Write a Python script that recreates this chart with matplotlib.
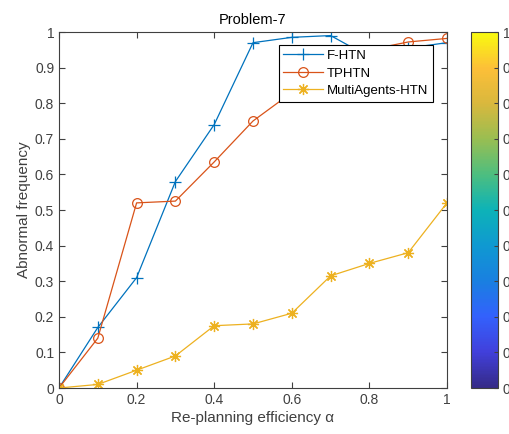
import numpy as np
import matplotlib.pyplot as plt
from matplotlib.colors import LinearSegmentedColormap
from matplotlib.cm import ScalarMappable
from matplotlib.colors import Normalize

plt.rcParams['font.family'] = ['Liberation Sans', 'DejaVu Sans']

alpha = [0, 0.1, 0.2, 0.3, 0.4, 0.5, 0.6, 0.7, 0.8, 0.9, 1.0]
f_htn = [0, 0.17, 0.31, 0.58, 0.74, 0.97, 0.985, 0.99, 0.93, 0.955, 0.97]
tphtn = [0, 0.14, 0.52, 0.525, 0.635, 0.75, 0.83, 0.90, 0.95, 0.972, 0.982]
multi = [0, 0.01, 0.05, 0.09, 0.175, 0.18, 0.21, 0.315, 0.35, 0.38, 0.52]

# approximate MATLAB parula
parula_pts = [
    (0.00, (0.208, 0.166, 0.529)),
    (0.10, (0.255, 0.250, 0.860)),
    (0.20, (0.200, 0.380, 0.990)),
    (0.30, (0.100, 0.500, 0.880)),
    (0.40, (0.060, 0.600, 0.820)),
    (0.50, (0.050, 0.700, 0.720)),
    (0.60, (0.300, 0.745, 0.500)),
    (0.70, (0.600, 0.745, 0.320)),
    (0.80, (0.850, 0.720, 0.240)),
    (0.90, (0.990, 0.750, 0.220)),
    (1.00, (0.976, 0.983, 0.054)),
]
parula = LinearSegmentedColormap.from_list('parula', parula_pts)

fig = plt.figure(figsize=(5.1, 4.34), dpi=100)
ax = fig.add_axes([59/510, 1-388/434, 388/510, 356/434])

ax.plot(alpha, f_htn, color='#0072BD', marker='+', markersize=8, mew=0.9, lw=0.9, label='F-HTN')
ax.plot(alpha, tphtn, color='#D95319', marker='o', markersize=7, mfc='none', mew=0.9, lw=0.9, label='TPHTN')
ax.plot(alpha, multi, color='#EDB120', marker=(8, 2, 0), markersize=8, mew=0.9, lw=0.9, label='MultiAgents-HTN')

ax.set_xlim(0, 1)
ax.set_ylim(0, 1)
ax.set_xticks(np.arange(0, 1.01, 0.2))
ax.set_xticklabels(['0', '0.2', '0.4', '0.6', '0.8', '1'])
ax.set_yticks(np.arange(0, 1.01, 0.1))
ax.set_yticklabels(['0', '0.1', '0.2', '0.3', '0.4', '0.5', '0.6', '0.7', '0.8', '0.9', '1'])
ax.tick_params(direction='in', top=True, right=True, labelsize=10, colors='#404040', length=4)
for s in ax.spines.values():
    s.set_color('#404040')
    s.set_linewidth(0.8)

ax.set_title('Problem-7', fontsize=10.5, pad=6)
ax.set_xlabel('Re-planning efficiency α', fontsize=11, color='#404040', labelpad=3)
ax.set_ylabel('Abnormal frequency', fontsize=11, color='#404040', labelpad=3)

leg = ax.legend(loc='upper right', bbox_to_anchor=(0.964, 0.963), fancybox=False,
                edgecolor='black', framealpha=1, fontsize=9.5, borderaxespad=0,
                handlelength=3.0, borderpad=0.35, labelspacing=0.4, handletextpad=0.3)
leg.get_frame().set_linewidth(0.8)

cax = fig.add_axes([471/510, 1-388/434, 27/510, 356/434])
sm = ScalarMappable(norm=Normalize(0, 1), cmap=parula)
cb = fig.colorbar(sm, cax=cax, ticks=np.arange(0, 1.01, 0.1))
cb.ax.set_yticklabels(['0', '0.1', '0.2', '0.3', '0.4', '0.5', '0.6', '0.7', '0.8', '0.9', '1'])
cb.ax.tick_params(direction='in', labelsize=10, colors='#404040', length=3)
cb.outline.set_edgecolor('#404040')
cb.outline.set_linewidth(0.8)

fig.savefig('out.png', dpi=100)
